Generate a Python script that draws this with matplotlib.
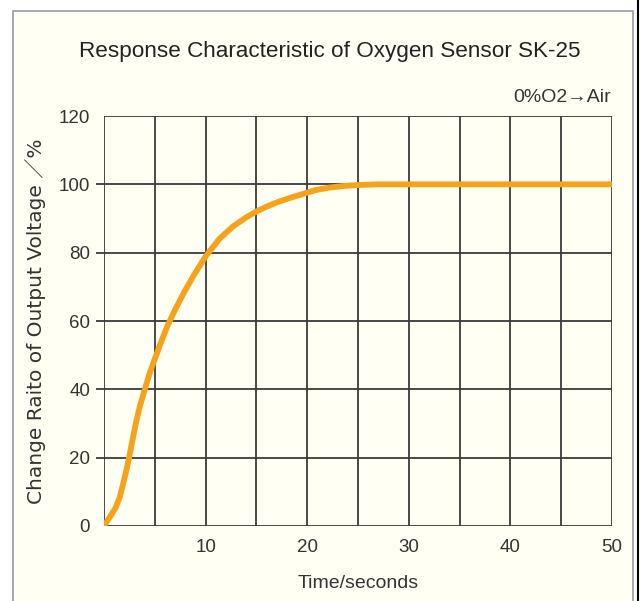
import matplotlib
matplotlib.use('Agg')
import matplotlib.pyplot as plt
from matplotlib.lines import Line2D
from matplotlib.patches import Rectangle

# response of SK-25 after switching 0% O2 -> air
time_s = [0, 0.25, 0.66, 1.15, 1.55, 1.88, 2.2, 2.47, 2.8, 3.13, 3.52, 4.01, 4.5,
          4.93, 5.6, 6.25, 7.0, 7.9, 8.88, 10.0, 11.35, 12.66, 13.98, 14.97, 15.95,
          17.27, 18.5, 20.8, 22.1, 23.5, 25.0, 27.0, 30, 40, 50]
response_pct = [0, 1.2, 3.0, 5.4, 8.4, 12.3, 16.3, 20.0, 25.1, 30.0, 35.0, 39.9, 44.8,
                48.3, 53.7, 58.6, 63.3, 68.5, 73.6, 78.9, 84.0, 87.6, 90.3, 92.0, 93.4,
                95.0, 96.2, 98.3, 99.0, 99.5, 99.8, 100, 100, 100, 100]

y_ticks = [0, 20, 40, 60, 80, 100, 120]
x_ticks = [10, 20, 30, 40, 50]
x_grid = [0, 5, 10, 15, 20, 25, 30, 35, 40, 45, 50]

FONT = ['Liberation Sans', 'DejaVu Sans']
BG = '#fffff4'
GRID = '#3a3a3a'
TXT = '#333333'

plt.rcParams['font.family'] = FONT

fig = plt.figure(figsize=(6.4, 6.01), dpi=100)
fig.patch.set_facecolor('white')

# cream panel with the thin grey frame
W, H = 640, 601
fig.patches.append(Rectangle((13 / W, -0.01), (633 - 13) / W, 1 - 11 / H + 0.01,
                             transform=fig.transFigure, facecolor=BG,
                             edgecolor='#9a9aa8', linewidth=1.2, zorder=-10))
fig.lines.append(Line2D([637.5 / W, 637.5 / W], [0, 1], transform=fig.transFigure,
                        color='black', linewidth=1.5, zorder=-10))

ax = fig.add_axes([104 / W, 1 - 526 / H, (612 - 104) / W, (526 - 116) / H])
ax.set_zorder(2)
ax.set_facecolor(BG)

for v in x_grid:
    ax.axvline(v, color=GRID, linewidth=1.3, zorder=1)
for v in y_ticks:
    ax.axhline(v, color=GRID, linewidth=1.3, zorder=1)

ax.plot(time_s, response_pct, color='#f7a21b', linewidth=4.2,
        solid_capstyle='round', solid_joinstyle='round', zorder=3)

ax.set_xlim(0, 50)
ax.set_ylim(0, 120)
ax.set_xticks(x_ticks)
ax.set_yticks(y_ticks)
ax.tick_params(axis='x', length=0, pad=9, labelsize=13.5, labelcolor=TXT)
ax.tick_params(axis='y', length=6, width=1.3, color=GRID, pad=4,
               labelsize=13.5, labelcolor=TXT)
yt = ax.yaxis.get_major_ticks()
yt[0].tick1line.set_visible(False)
yt[-1].tick1line.set_visible(False)
for s in ax.spines.values():
    s.set_visible(False)

ax.set_xlabel('Time/seconds', fontsize=14, color=TXT, labelpad=14)
ax.set_ylabel('Change Raito of Output Voltage \uff0f%', fontsize=14.5, color=TXT,
              labelpad=9, family=['DejaVu Sans', 'Noto Sans CJK JP'])

fig.text(0.515, 1 - 51 / H, 'Response Characteristic of Oxygen Sensor SK-25',
         ha='center', va='center', fontsize=16.2, color='#222222')
fig.text(611 / W, 1 - 97 / H, '0%O2\u2192Air', ha='right', va='center',
         fontsize=14, color=TXT)

fig.savefig('out.png', dpi=100, facecolor=fig.get_facecolor())
